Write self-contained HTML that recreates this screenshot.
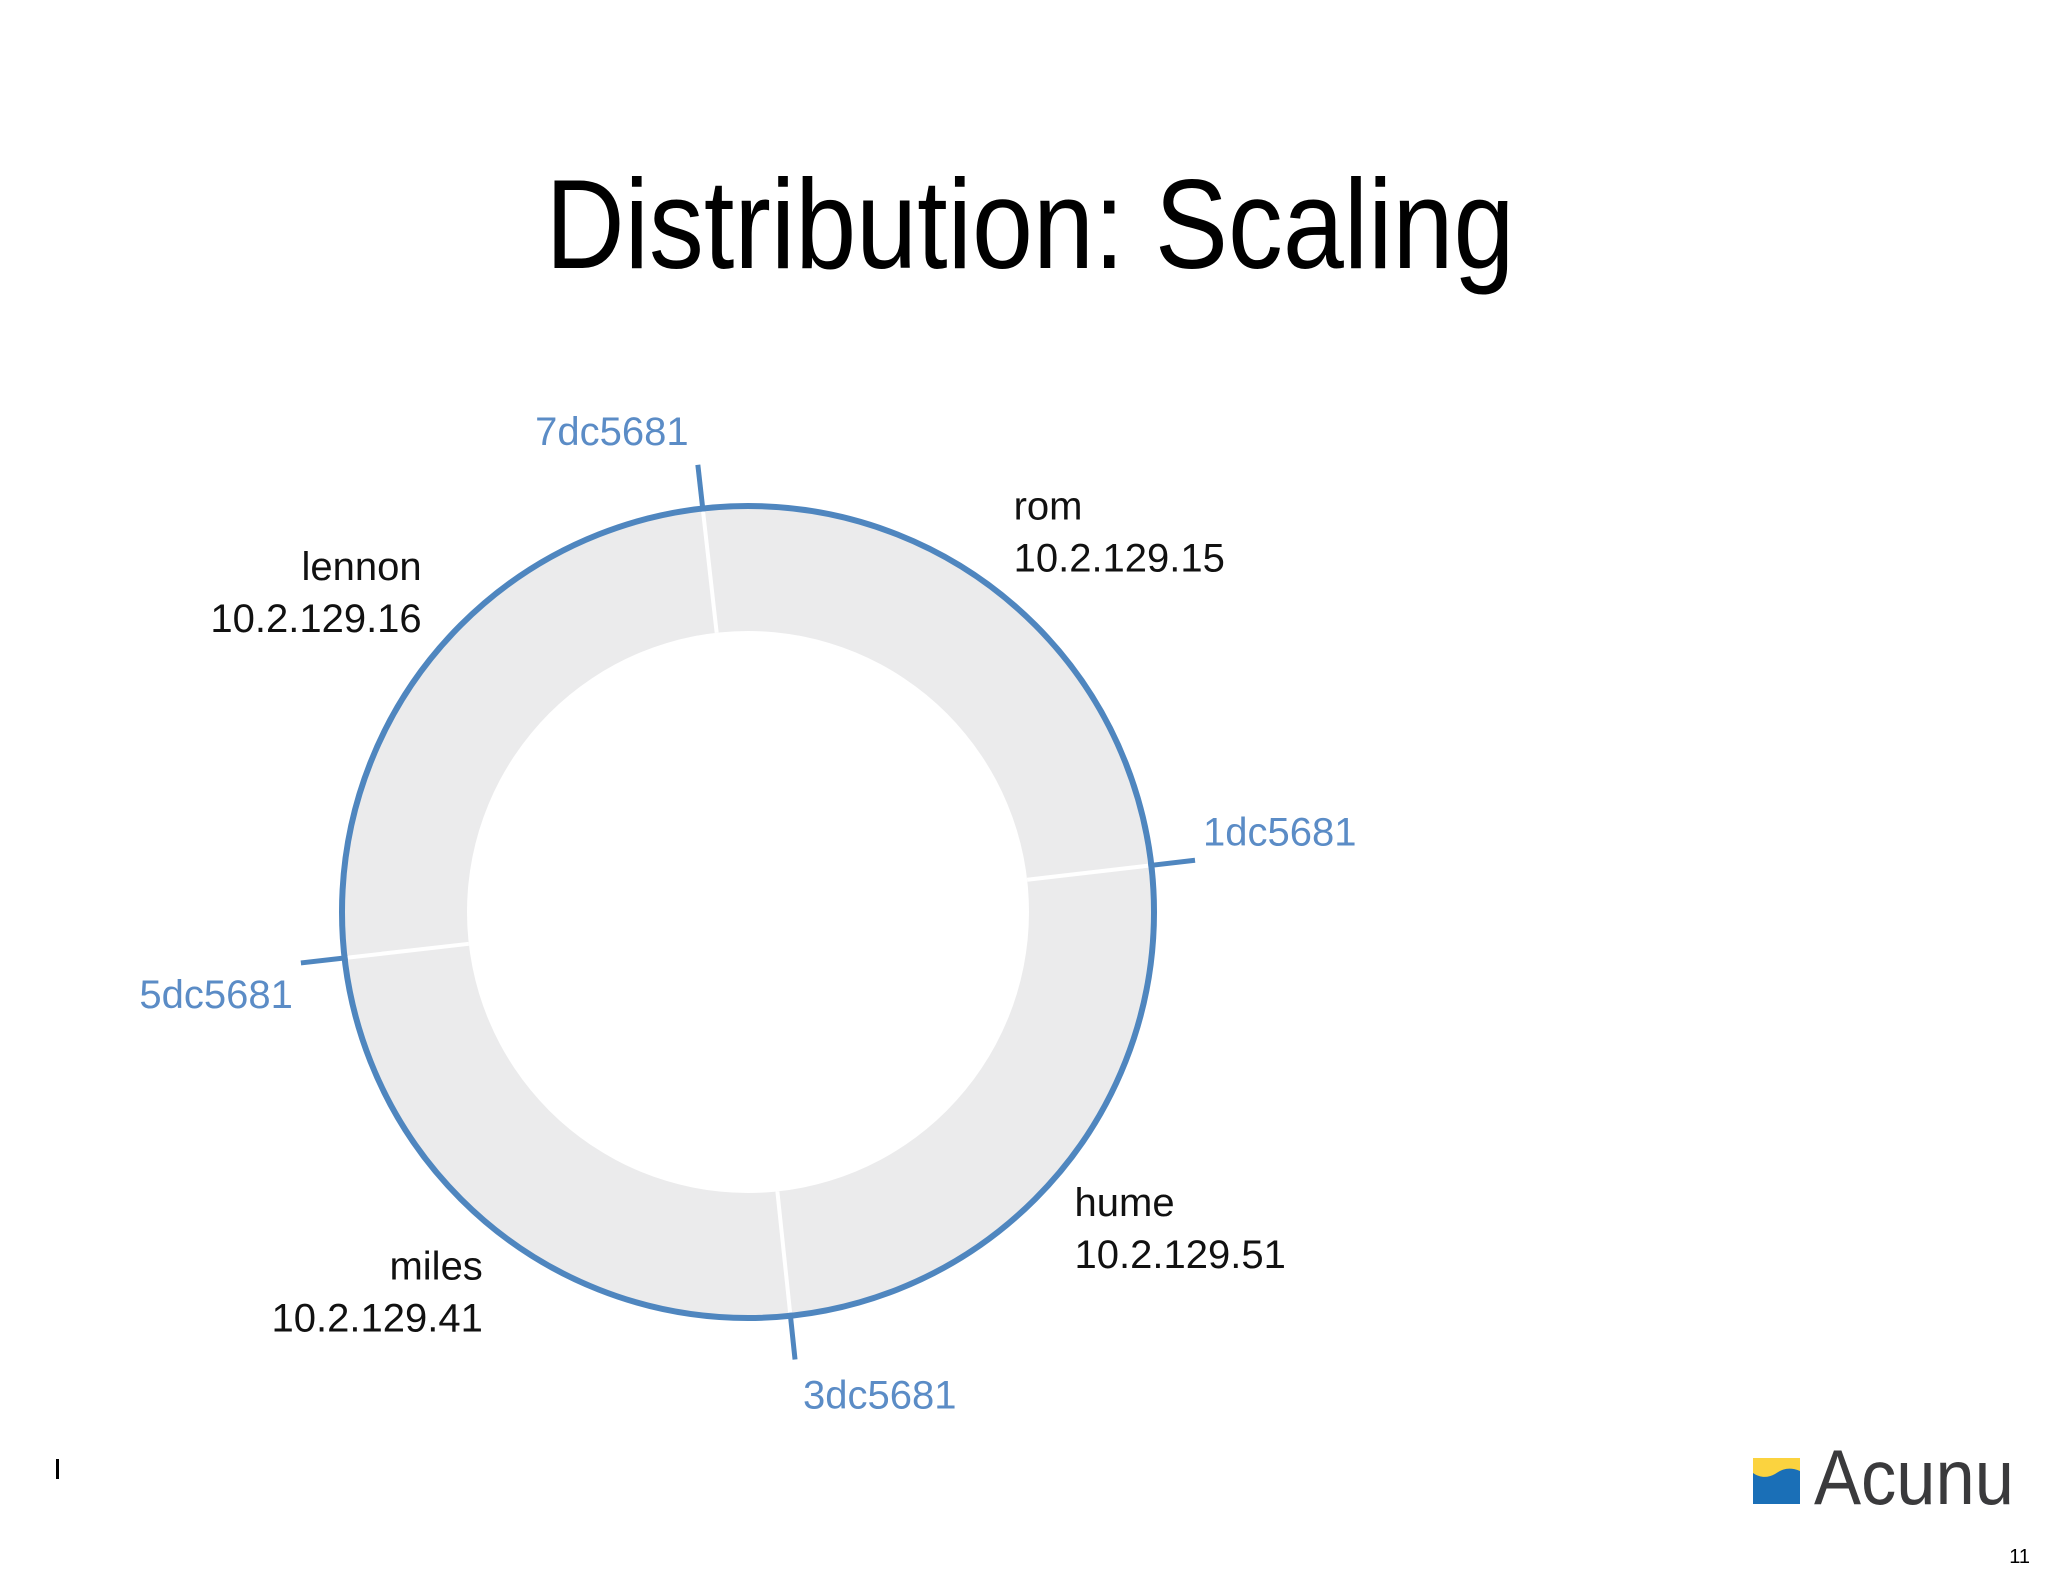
<!DOCTYPE html>
<html><head><meta charset="utf-8">
<style>
html,body{margin:0;padding:0;background:#fff;}
svg{display:block;}
text{font-family:"Liberation Sans",sans-serif;}
</style></head>
<body>
<svg id="chart" width="2048" height="1576" viewBox="0 0 2048 1576" xmlns="http://www.w3.org/2000/svg">
  <text x="1030" y="268" font-size="127" text-anchor="middle" textLength="969" lengthAdjust="spacingAndGlyphs" fill="#000">Distribution: Scaling</text>
  <g id="ring"></g>
  <rect x="56" y="1459" width="3" height="20" fill="#000"/>
  <g>
    <rect x="1753" y="1458" width="47" height="46" fill="#1a6fb7"/>
    <path d="M1753 1458 H1800 V1471 C1788 1466 1781 1470 1775 1474 C1768 1478 1760 1478 1753 1473 Z" fill="#fbd33f"/>
    <text x="1814" y="1504" font-size="78" fill="#3a3a3c" textLength="200" lengthAdjust="spacingAndGlyphs">Acunu</text>
  </g>
  <text x="2030" y="1563" font-size="20" text-anchor="end" fill="#000">11</text>
</svg>
<script>
const tokenLabels = ["7dc5681", "1dc5681", "3dc5681", "5dc5681"];
const tokenAngles = [353.6, 83.4, 174.0, 263.5];
const nodeNames = ["rom", "hume", "miles", "lennon"];
const nodeIps = ["10.2.129.15", "10.2.129.51", "10.2.129.41", "10.2.129.16"];

const cx = 748, cy = 912, rOuter = 406, rInner = 281, tickLen = 44;
const NS = "http://www.w3.org/2000/svg";
const g = document.getElementById("ring");
function pt(a, r){ const t = a*Math.PI/180; return [cx + r*Math.sin(t), cy - r*Math.cos(t)]; }
function mk(tag, attrs){ const e = document.createElementNS(NS, tag); for (const k in attrs) e.setAttribute(k, attrs[k]); g.appendChild(e); return e; }

const band = mk("path", {d:`M${cx-rOuter},${cy} a${rOuter},${rOuter} 0 1,0 ${2*rOuter},0 a${rOuter},${rOuter} 0 1,0 ${-2*rOuter},0 Z M${cx-rInner},${cy} a${rInner},${rInner} 0 1,1 ${2*rInner},0 a${rInner},${rInner} 0 1,1 ${-2*rInner},0 Z`, fill:"#ebebec", "fill-rule":"evenodd"});



tokenAngles.forEach((a, i) => {
  const [x1,y1] = pt(a, rInner), [x2,y2] = pt(a, rOuter);
  const sp = mk("line", {x1, y1, x2, y2, stroke:"#fff", "stroke-width":4});
  
  
});

const outline = mk("circle", {cx, cy, r:rOuter, fill:"none", stroke:"#4f86bf", "stroke-width":6});



tokenAngles.forEach((a, i) => {
  const [x1,y1] = pt(a, rOuter-3), [x2,y2] = pt(a, rOuter+tickLen);
  const tk = mk("line", {x1, y1, x2, y2, stroke:"#4f86bf", "stroke-width":5});
  
  
  const s = Math.sin(a*Math.PI/180), c = Math.cos(a*Math.PI/180);
  let anchor, dx, dy;
  if (Math.abs(c) > Math.abs(s)) {
    if (c > 0) { anchor = "middle"; dx = -86; dy = -20; } else { anchor = "start"; dx = 8; dy = 49; }
  } else {
    if (s > 0) { anchor = "start"; dx = 8; dy = -15; } else { anchor = "end"; dx = -8; dy = 45; }
  }
  const t = mk("text", {x:x2+dx, y:y2+dy, "font-size":40, fill:"#5b8cc6", "text-anchor":anchor});
  t.textContent = tokenLabels[i];
  
  
});

nodeNames.forEach((n, i) => {
  const a0 = tokenAngles[i], a1 = tokenAngles[(i+1) % tokenAngles.length];
  let span = a1 - a0; if (span < 0) span += 360;
  const mid = (a0 + span/2) % 360;
  const [x, y0] = pt(mid, 462);
  const right = Math.sin(mid*Math.PI/180) > 0;
  const upper = Math.cos(mid*Math.PI/180) > 0;
  const anchor = right ? "start" : "end";
  let xx = right ? x - 22 : x + 22;
  let y = y0;
  if (upper && right) { y -= 7; }
  else if (upper && !right) { y -= 20; xx += 13; }
  else if (!upper && right) { y += 39; xx -= 12; }
  else { y += 31; xx += 2; }
  const t1 = mk("text", {x:xx, y:y-24, "font-size":40, fill:"#111", "text-anchor":anchor});
  t1.textContent = n;
  
  
  const t2 = mk("text", {x:xx, y:y+28, "font-size":40, fill:"#111", "text-anchor":anchor});
  t2.textContent = nodeIps[i];
  
  
});
</script>
</body></html>
